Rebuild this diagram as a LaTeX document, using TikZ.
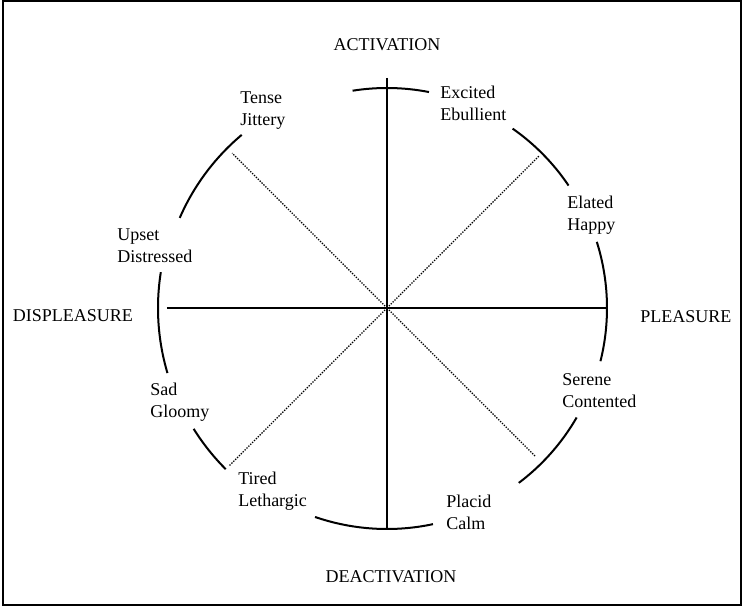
\documentclass[tikz,border=0pt]{standalone}
\usepackage{fontspec}
\setmainfont{Liberation Serif}
\usetikzlibrary{positioning}
\tikzset{
  every node/.style={font=\fontsize{13.5}{16.5}\selectfont, inner sep=0pt, align=left},
  rim/.style={line width=1.5pt},
  axis/.style={line width=0.8pt},
  diag/.style={densely dotted, line width=1pt}
}

\begin{document}
\begin{tikzpicture}[x=0.75pt, y=0.75pt]
  \useasboundingbox (-387,308) rectangle (360,-299);
  \draw [line width=1.5pt] (-384,307) rectangle (354,-297);

  \coordinate (O) at (0,0);
  \coordinate (actend) at (0,230);
  \coordinate (deactend) at (0,-220);
  \coordinate (plend) at (221,0);
  \coordinate (displend) at (-220,0);

  \draw [axis] (actend) -- (deactend);
  \draw [axis] (displend) -- (plend);

  \coordinate (ne) at (45:216);
  \coordinate (nw) at (135:219);
  \coordinate (sw) at (225:223);
  \coordinate (se) at (-45:210);
  \draw [diag] (O) -- (ne);
  \draw [diag] (O) -- (nw);
  \draw [diag] (O) -- (sw);
  \draw [diag] (O) -- (se);

  \draw [rim] (79:220) arc [start angle=79, end angle=99, radius=220];
  \draw [rim] (34:219) arc [start angle=34, end angle=55, radius=219];
  \draw [rim] (-14:220) arc [start angle=-14, end angle=17.5, radius=220];
  \draw [rim] (-53:219) arc [start angle=-53, end angle=-30, radius=219];
  \draw [rim] (-109:221) arc [start angle=-109, end angle=-78, radius=221];
  \draw [rim] (212:228) arc [start angle=212, end angle=225, radius=228];
  \draw [rim] (171:229) arc [start angle=171, end angle=196.5, radius=229];
  \draw [rim] (130:226) arc [start angle=130, end angle=156.5, radius=226];

  \node (activation) at (0,263) {ACTIVATION};
  \node (deactivation) at (4,-269) {DEACTIVATION};
  \node (pleasure) [anchor=west] at (253,-9) {PLEASURE};
  \node (displeasure) at (-314,-8) {DISPLEASURE};

  \node (excited) [anchor=west] at (53,205) {Excited\\Ebullient};
  \node (elated) [anchor=west] at (180,93) {Elated\\Happy};
  \node (serene) [anchor=west] at (175,-83) {Serene\\Contented};
  \node (placid) [anchor=west] at (59,-204) {Placid\\Calm};
  \node (tired) [anchor=west] at (-149,-183) {Tired\\Lethargic};
  \node (sad) [anchor=west] at (-237,-94) {Sad\\Gloomy};
  \node (upset) [anchor=west] at (-270,62) {Upset\\Distressed};
  \node (tense) [anchor=west] at (-147,197) {Tense\\Jittery};
\end{tikzpicture}
\end{document}
